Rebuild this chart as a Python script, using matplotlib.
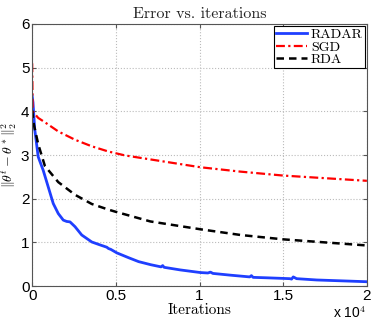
import numpy as np
import matplotlib
matplotlib.use("Agg")
import matplotlib.pyplot as plt

plt.rcParams["mathtext.fontset"] = "cm"

# values
radar_it = [0, 50, 150, 360, 660, 960, 1260, 1560, 1860, 2060, 2260, 2560, 2960,
            3560, 4000, 4460, 4560, 4700, 5060, 5760, 6360, 7080, 7700, 7800, 7880,
            8850, 10050, 10500, 10650, 10800, 11850, 13000, 13100, 13200, 14000,
            15400, 15500, 15600, 15800, 17000, 18500, 20000]
radar_err = [4.35, 4.2, 3.6, 2.96, 2.65, 2.27, 1.89, 1.66, 1.51, 1.48, 1.47, 1.36, 1.17,
             1.01, 0.95, 0.89, 0.86, 0.84, 0.76, 0.65, 0.56, 0.49, 0.44, 0.47, 0.43,
             0.37, 0.31, 0.30, 0.32, 0.29, 0.25, 0.21, 0.24, 0.20, 0.19,
             0.17, 0.16, 0.21, 0.17, 0.14, 0.12, 0.10]

sgd_it = [0, 30, 360, 760, 1560, 2560, 3560, 4560, 5560, 7060, 10060, 12450, 15000, 17500, 20000]
sgd_err = [5.1, 4.0, 3.85, 3.75, 3.54, 3.35, 3.2, 3.08, 2.99, 2.90, 2.72, 2.62, 2.53, 2.47, 2.41]

rda_it = [0, 100, 360, 760, 1560, 2560, 3560, 4560, 5000, 7060, 10060, 12450, 15000, 17500, 20000]
rda_err = [4.02, 3.7, 3.25, 2.75, 2.38, 2.09, 1.88, 1.75, 1.70, 1.48, 1.30, 1.17, 1.07, 1.0, 0.93]

fig = plt.figure(figsize=(3.74, 3.24), dpi=100)
ax = fig.add_axes([0.086, 0.117, 0.895, 0.809])

ax.plot(radar_it, radar_err, color="#1f3fff", lw=2.0, label="RADAR")
ax.plot(sgd_it, sgd_err, color="red", lw=1.6, ls=(0, (4, 1.5, 1, 1.5)), label="SGD")
ax.plot(rda_it, rda_err, color="black", lw=1.8, ls=(0, (3, 2)), label="RDA")

ax.set_xlim(0, 20000)
ax.set_ylim(0, 6)
ax.set_xticks([0, 5000, 10000, 15000, 20000])
ax.set_xticklabels(["0", "0.5", "1", "1.5", "2"])
ax.set_yticks(range(7))
ax.tick_params(direction="in", top=True, right=True, labelsize=11, length=3,
               color="#555555")
ax.tick_params(axis="x", pad=2)
ax.tick_params(axis="y", pad=2)
for lab in ax.get_xticklabels() + ax.get_yticklabels():
    lab.set_fontfamily("Liberation Sans")
for sp in ax.spines.values():
    sp.set_color("#555555")
ax.grid(True, ls=":", color="#bbbbbb", lw=0.8)

ax.set_title("Error vs. iterations", fontfamily="cmr10", fontsize=11.5, pad=4,
             color="#222222")
ax.set_xlabel("Iterations", fontfamily="cmr10", fontsize=11, labelpad=0)
ax.set_ylabel(r"$\|\theta^t-\theta^*\|_2^2$", fontsize=10, labelpad=1)
ax.text(1.0, -0.122, r"x 10$^4$", transform=ax.transAxes, ha="right", va="baseline",
        fontsize=10, fontfamily="Liberation Sans")

leg = ax.legend(loc="upper right", prop={"family": "cmr10", "size": 10},
                fancybox=False, edgecolor="black", framealpha=1,
                borderpad=0.15, labelspacing=0.0, handlelength=2.2,
                handletextpad=0.3, borderaxespad=0.15)
leg.get_frame().set_linewidth(0.8)

fig.savefig("out.png", dpi=100)
